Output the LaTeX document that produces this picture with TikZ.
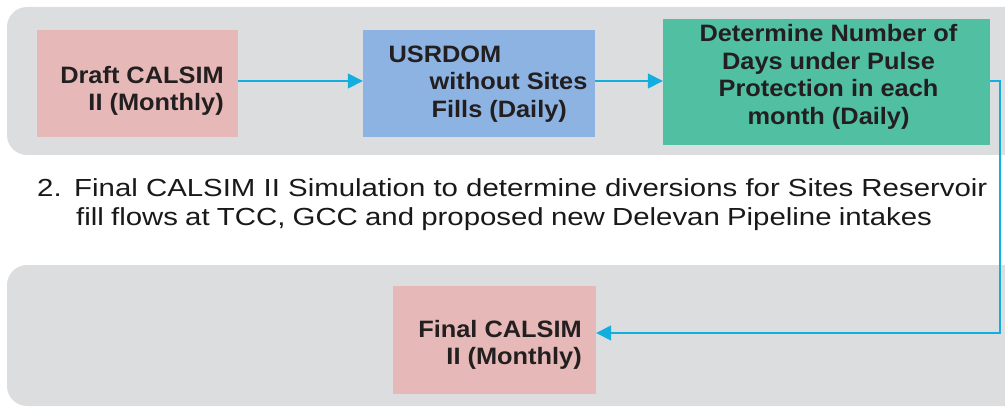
\documentclass[tikz,border=0pt]{standalone}
\usepackage{fontspec}
\setmainfont{Liberation Sans}
\newfontfamily\boxfont[FakeStretch=1.07]{Liberation Sans}
\newfontfamily\wordfont[FakeStretch=1.19]{Liberation Sans}
\usetikzlibrary{arrows.meta}
\definecolor{bandgray}{HTML}{DCDDDF}
\definecolor{boxpink}{HTML}{E6B8B7}
\definecolor{boxblue}{HTML}{8DB3E2}
\definecolor{boxgreen}{HTML}{50BFA2}
\definecolor{linecyan}{HTML}{12AEE0}
\definecolor{textdark}{HTML}{231F20}
\tikzset{
  band/.style={fill=bandgray, rounded corners=20pt},
  stepbox/.style={draw=none, inner sep=0pt},
  boxtext/.style={inner sep=0pt, text=textdark, font=\boxfont\bfseries\fontsize{23.7}{27.5}\selectfont},
  flow/.style={draw=linecyan, line width=1.5pt, -{Triangle[length=15pt,width=15pt]}},
}
\begin{document}
\begin{tikzpicture}[x=1pt,y=-1pt]
\useasboundingbox (0,0) rectangle (1005,409);
% bands
\fill[band] (7,7) rectangle (1030,155);
\fill[band] (7,265) rectangle (1030,406);
% boxes
\node[stepbox, fill=boxpink, minimum width=201pt, minimum height=107pt] (b1) at (137.5,83.5) {};
\node[stepbox, fill=boxblue, minimum width=232pt, minimum height=107pt] (b2) at (479,83.5) {};
\node[stepbox, fill=boxgreen, minimum width=327pt, minimum height=126pt] (b3) at (826.5,82) {};
\node[stepbox, fill=boxpink, minimum width=203pt, minimum height=108pt] (b4) at (494.5,340) {};
% box texts
\node[boxtext, align=right] (t1) at (142,91) {Draft CALSIM\\II (Monthly)};
\node[boxtext, align=left] (t2) at (488,84) {USRDOM\\\hspace*{41pt}without Sites\\\hspace*{43pt}Fills (Daily)};
\node[boxtext, align=center] (t3) at (828.5,77) {Determine Number of\\Days under Pulse\\Protection in each\\month (Daily)};
\node[boxtext, align=right] (t4) at (500,345) {Final CALSIM\\II (Monthly)};
% text
\node[anchor=north west, inner sep=0pt, align=left, text=black!90, font=\wordfont\fontsize{24.7}{29}\selectfont] (txt) at (37,178.5) {\makebox[37pt][l]{2.}Final CALSIM II Simulation to determine diversions for Sites Reservoir\\\hspace*{39pt}{\spaceskip=\dimexpr\fontdimen2\font-1pt\relax fill flows at TCC, GCC and proposed new Delevan Pipeline intakes}};
% connectors
\draw[flow] (b1.east |- 0,81) -- (b2.west |- 0,81);
\draw[flow] (b2.east |- 0,81) -- (b3.west |- 0,81);
\coordinate (c1) at (1000,81);
\coordinate (c2) at (1000,333);
\draw[flow] (b3.east |- c1) -- (c1) -- (c2) -- (b4.east |- c2);
\end{tikzpicture}
\end{document}
